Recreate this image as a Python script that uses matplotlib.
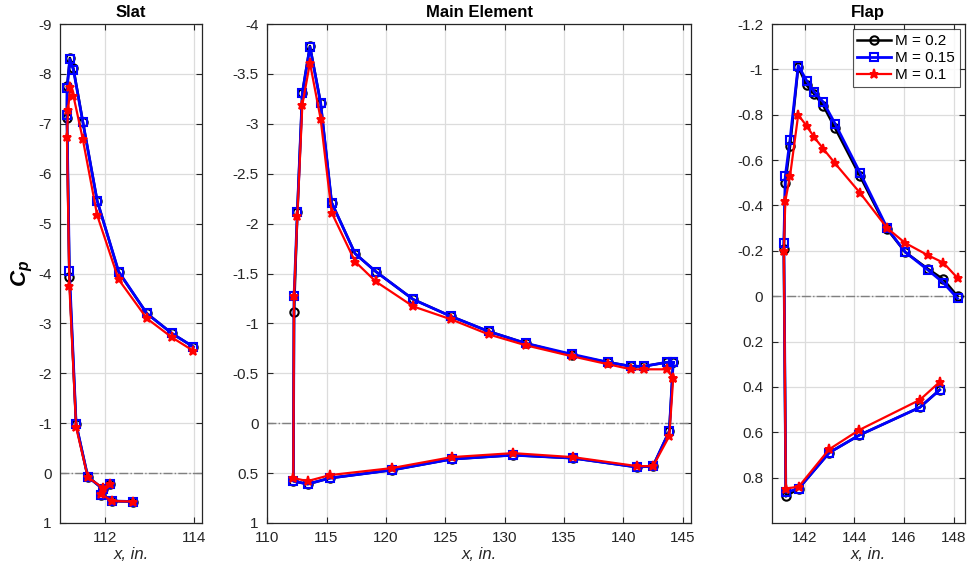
import matplotlib
matplotlib.use('Agg')
import matplotlib.pyplot as plt

plt.rcParams['font.family'] = ['Liberation Sans', 'DejaVu Sans']
plt.rcParams['axes.unicode_minus'] = False
plt.rcParams['mathtext.fontset'] = 'custom'
plt.rcParams['mathtext.it'] = 'Liberation Sans:bold:italic'
plt.rcParams['mathtext.rm'] = 'Liberation Sans:bold'

# ---------------- data (x in inches, Cp) ----------------
# slat: lower-surface cove -> leading edge -> upper surface
slat_x = [112.64, 112.16, 111.92, 112.12, 111.96, 111.62, 111.36, 111.21,
          111.155, 111.16, 111.22, 111.30, 111.51, 111.83, 112.31, 112.94, 113.50, 113.98]
slat_m20 = [0.57, 0.56, 0.44, 0.22, 0.32, 0.07, -0.98, -3.93,
            -7.11, -7.75, -8.32, -8.11, -7.04, -5.46, -4.03, -3.20, -2.80, -2.53]
slat_m15 = [0.57, 0.56, 0.44, 0.22, 0.32, 0.07, -0.98, -4.05,
            -7.18, -7.72, -8.29, -8.08, -7.04, -5.46, -4.04, -3.20, -2.80, -2.53]
slat_x_m10 = [112.64, 112.16, 111.92, 112.12, 111.96, 111.62, 111.36, 111.21,
              111.155, 111.18, 111.23, 111.30, 111.51, 111.83, 112.31, 112.94, 113.50, 113.98]
slat_m10 = [0.57, 0.56, 0.42, 0.22, 0.30, 0.08, -0.92, -3.75,
            -6.74, -7.28, -7.73, -7.56, -6.69, -5.17, -3.88, -3.10, -2.72, -2.45]

# main element: upper TE -> lower TE -> lower surface -> LE -> upper surface -> upper TE
main_x = [144.20, 143.87, 142.50, 141.15, 135.75, 130.70, 125.54, 120.49, 115.29, 113.41, 112.20,
          112.26, 112.54, 112.96, 113.60, 114.50, 115.43, 117.40, 119.14, 122.30, 125.50,
          128.65, 131.80, 135.70, 138.74, 140.65, 141.70, 143.66, 144.20]
main_m20 = [-0.61, 0.08, 0.43, 0.44, 0.35, 0.32, 0.36, 0.47, 0.55, 0.61, 0.58,
            -1.11, -2.12, -3.31, -3.78, -3.21, -2.21, -1.70, -1.52, -1.24, -1.07,
            -0.92, -0.80, -0.68, -0.61, -0.57, -0.57, -0.61, -0.61]
main_m15 = [-0.61, 0.08, 0.43, 0.44, 0.35, 0.32, 0.36, 0.47, 0.55, 0.61, 0.58,
            -1.27, -2.12, -3.31, -3.77, -3.21, -2.21, -1.70, -1.52, -1.24, -1.07,
            -0.92, -0.80, -0.69, -0.61, -0.57, -0.57, -0.61, -0.61]
main_m10 = [-0.45, 0.13, 0.43, 0.43, 0.34, 0.30, 0.34, 0.45, 0.52, 0.58, 0.55,
            -1.27, -2.08, -3.19, -3.61, -3.05, -2.11, -1.62, -1.42, -1.17, -1.04,
            -0.89, -0.78, -0.67, -0.59, -0.54, -0.54, -0.54, -0.45]

# flap: lower TE -> lower surface -> LE -> upper surface -> upper TE
flap_x = [147.44, 146.64, 144.19, 142.98, 141.75, 141.23,
          141.15, 141.21, 141.40, 141.73, 142.07, 142.38, 142.74, 143.22,
          144.22, 145.32, 146.04, 146.97, 147.58, 148.16]
flap_m20 = [0.413, 0.49, 0.613, 0.69, 0.848, 0.883,
            -0.21, -0.50, -0.66, -1.01, -0.93, -0.89, -0.84, -0.74,
            -0.53, -0.295, -0.195, -0.12, -0.075, 0.0]
flap_m15 = [0.413, 0.49, 0.613, 0.69, 0.848, 0.865,
            -0.233, -0.53, -0.69, -1.017, -0.95, -0.90, -0.856, -0.76,
            -0.545, -0.30, -0.195, -0.115, -0.06, 0.01]
flap_m10 = [0.378, 0.457, 0.59, 0.675, 0.84, 0.848,
            -0.20, -0.42, -0.53, -0.80, -0.75, -0.70, -0.65, -0.585,
            -0.456, -0.30, -0.235, -0.18, -0.148, -0.08]

labels = ['M = 0.2', 'M = 0.15', 'M = 0.1']

fig = plt.figure(figsize=(9.7, 5.71), dpi=100)
W, H = 970.0, 571.0


def make_axes(left, right, top=24, bottom=523):
    return fig.add_axes([left / W, 1 - bottom / H, (right - left) / W, (bottom - top) / H])


def style(ax, title, xlim, ylim, xticks, yticks, yticklabels=None):
    ax.set_xlim(*xlim)
    ax.set_ylim(*ylim)
    ax.set_xticks(xticks)
    ax.set_yticks(yticks)
    if yticklabels is not None:
        ax.set_yticklabels(yticklabels)
    ax.grid(True, color='#dcdcdc', linewidth=0.9)
    ax.set_axisbelow(True)
    ax.axhline(0, color='#808080', linestyle='-.', linewidth=1.0, zorder=1.5)
    ax.tick_params(direction='in', top=True, right=True, length=4, width=0.8,
                   labelsize=11, colors='#262626', pad=6)
    for sp in ax.spines.values():
        sp.set_color('#262626')
        sp.set_linewidth(0.9)
    ax.set_title(title, fontsize=12, fontweight='bold', pad=5)
    ax.set_xlabel('x, in.', fontsize=12, style='italic', color='#262626', labelpad=1)


def draw(ax, x20, y20, x15, y15, x10, y10):
    l1, = ax.plot(x20, y20, '-o', color='black', lw=1.8, ms=6, mfc='none', mew=1.5)
    l2, = ax.plot(x15, y15, '-s', color='blue', lw=2.0, ms=6, mfc='none', mew=1.5)
    l3, = ax.plot(x10, y10, '-*', color='red', lw=1.6, ms=6.5, mfc='red', mew=1.4)
    return [l1, l2, l3]


ax1 = make_axes(60, 202.3)
draw(ax1, slat_x, slat_m20, slat_x, slat_m15, slat_x_m10, slat_m10)
style(ax1, 'Slat', (111.0, 114.18), (1, -9), [112, 114], list(range(-9, 2)))
ax1.set_ylabel(r'$C_p$', fontsize=16, labelpad=2)

ax2 = make_axes(267.2, 691)
draw(ax2, main_x, main_m20, main_x, main_m15, main_x, main_m10)
main_yt = [-4, -3.5, -3, -2.5, -2, -1.5, -1, -0.5, 0, 0.5, 1]
style(ax2, 'Main Element', (110, 145.7), (1, -4), list(range(110, 150, 5)), main_yt,
      ['-4', '-3.5', '-3', '-2.5', '-2', '-1.5', '-1', '-0.5', '0', '0.5', '1'])

ax3 = make_axes(771.7, 965)
lines = draw(ax3, flap_x, flap_m20, flap_x, flap_m15, flap_x, flap_m10)
flap_yt = [-1.2, -1.0, -0.8, -0.6, -0.4, -0.2, 0, 0.2, 0.4, 0.6, 0.8]
style(ax3, 'Flap', (140.66, 148.46), (1.0, -1.2), [142, 144, 146, 148], flap_yt,
      ['-1.2', '-1', '-0.8', '-0.6', '-0.4', '-0.2', '0', '0.2', '0.4', '0.6', '0.8'])
leg = ax3.legend(lines, labels, loc='upper right', fontsize=11, frameon=True, fancybox=False,
                 edgecolor='#262626', borderaxespad=0.35, handlelength=2.2, handletextpad=0.3,
                 labelspacing=0.2, borderpad=0.3)
leg.get_frame().set_linewidth(0.8)

fig.savefig('out.png', dpi=100)
